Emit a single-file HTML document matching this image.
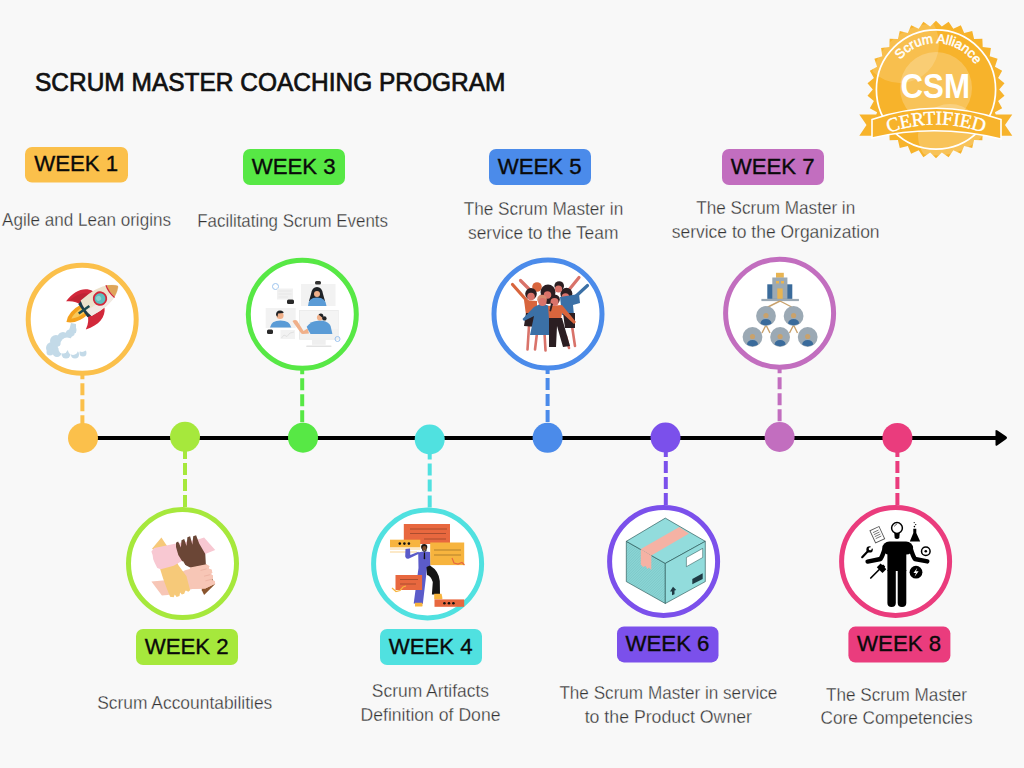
<!DOCTYPE html>
<html><head><meta charset="utf-8"><style>
html,body{margin:0;padding:0;background:#f8f8f8;width:1024px;height:768px;overflow:hidden}
svg{display:block}
text{font-family:"Liberation Sans",sans-serif}
.tt{font-size:25px;fill:#111;stroke:#111;stroke-width:0.7px}
.wk{font-size:22.4px;fill:#0a0a0a;stroke:#0a0a0a;stroke-width:0.35px}
.ds{font-size:17.5px;fill:#333;stroke:#f8f8f8;stroke-width:0.3px}
</style></head><body>
<svg width="1024" height="768" viewBox="0 0 1024 768">
<line x1="97" y1="438" x2="1000" y2="438" stroke="#000" stroke-width="4"/>
<path d="M995.5 431.5 Q995 429 997.5 430.5 L1006 436.3 Q1008 437.8 1006 439.3 L997.5 445.2 Q995 446.8 995.5 444 Z" fill="#000"/>
<line x1="82.4" y1="319.3" x2="82.4" y2="438.0" stroke="#FBC04B" stroke-width="4" stroke-dasharray="12 4"/>
<circle cx="83" cy="438" r="15" fill="#FBC04B"/>
<circle cx="82.2" cy="319.3" r="54.0" fill="#fff" stroke="#FBC04B" stroke-width="5"/>
<circle cx="52" cy="348" r="6" fill="#C3DAE8"/><circle cx="56" cy="341" r="6" fill="#C3DAE8"/><circle cx="63" cy="337.5" r="5.5" fill="#C3DAE8"/><circle cx="70" cy="334" r="4.5" fill="#C3DAE8"/><circle cx="73" cy="330" r="3.5" fill="#C3DAE8"/><circle cx="57" cy="352.5" r="4.5" fill="#C3DAE8"/><circle cx="66" cy="354" r="4.5" fill="#C3DAE8"/><circle cx="75" cy="354.5" r="4" fill="#C3DAE8"/><circle cx="83" cy="353" r="3.5" fill="#C3DAE8"/><circle cx="50" cy="352" r="3.5" fill="#C3DAE8"/><path d="M68 335 L71 323 L76 324 L76 333 Z" fill="#C3DAE8"/><circle cx="67" cy="344" r="6.5" fill="#fff"/><circle cx="76" cy="341" r="6" fill="#fff"/><circle cx="82" cy="347" r="5" fill="#fff"/><circle cx="73" cy="350" r="5" fill="#fff"/><circle cx="63" cy="349" r="4.5" fill="#fff"/><g transform="translate(96.75 300.85) rotate(-35)"><path d="M-14 -6 Q-30 -8 -37 0 Q-30 8 -14 6 Z" fill="#F4A21E"/><path d="M-16 -3 Q-26 -3 -31 0 Q-26 3 -16 3 Z" fill="#F8C85A"/><path d="M2.5 -10 C-2 -18.5 -12 -21.5 -25.4 -17.2 Q-17.5 -13 -15 -5 Z" fill="#D2283A"/><path d="M2.5 10 C-2 18.5 -12 21.5 -25.4 17.2 Q-17.5 13 -15 5 Z" fill="#D2283A"/><path d="M-2 -10 C-6 -15 -12 -17 -22 -16 Q-16 -12 -14 -6 Z" fill="#A81E2C" opacity="0.45"/><path d="M-17 -8 L-7 -10 L-7 10 L-17 8 Z" fill="#1E3A48"/><path d="M-13 -9.5 Q8 -12 19 -6 Q26 -2 26 0 Q26 2 19 6 Q8 12 -13 9.5 Q-16 0 -13 -9.5 Z" fill="#EDE2CC"/><path d="M-13 2 Q8 4 26 0 Q26 2 19 6 Q8 12 -13 9.5 Z" fill="#F2EAE4"/><path d="M17 -7 Q24 -3 26 0 Q24 3 17 7 Q15 0 17 -7 Z" fill="#DFA55A"/><path d="M16.5 -7.5 Q14.5 0 16.5 7.5" stroke="#D2283A" stroke-width="1.3" fill="none"/><circle cx="4" cy="0" r="7.2" fill="#D2283A"/><circle cx="4" cy="0" r="5.4" fill="#5EBFBF"/><circle cx="3" cy="-1" r="2.5" fill="#8ED4D0"/><path d="M-22 -1.2 L-9 -1.2 L-9 1.2 L-22 1.2 Z" fill="#1E4A50"/></g>
<rect x="25" y="147" width="103" height="35.5" rx="7" fill="#FBC04B"/>
<text x="76.2" y="170.6" text-anchor="middle" class="wk" textLength="84" lengthAdjust="spacingAndGlyphs">WEEK 1</text>
<text x="2.0" y="225.7" class="ds" textLength="169.0" lengthAdjust="spacingAndGlyphs">Agile and Lean origins</text>
<line x1="185.0" y1="507.1" x2="185.0" y2="436.8" stroke="#A6E83C" stroke-width="4" stroke-dasharray="12 4"/>
<circle cx="185" cy="436.8" r="15" fill="#A6E83C"/>
<circle cx="182.5" cy="563.6" r="54.0" fill="#fff" stroke="#A6E83C" stroke-width="5"/>
<polygon points="200.6,566.9 206.5,564.5 214.7,584.4 204.1,595.0 201.8,590.3" fill="#8A552E"/><polygon points="151.4,581.5 165.5,580.3 184.2,570.4 206.5,564.5 209.4,566.3 208.6,568.6 211.7,569.8 212.3,572.7 210.6,574.1 212.9,575.6 212.9,578.6 211.1,580.0 214.7,580.9 215.2,583.8 205.3,588.5 192.4,589.1 167.8,595.0 161.9,595.6" fill="#F7C6B6"/><polygon points="152.0,548.7 161.4,537.6 165.7,544.0 173.7,555.1 178.3,565.1 186.5,576.2 190.1,590.3 188.3,591.7 185.6,590.3 184.2,593.8 181.9,594.6 180.1,592.6 179.5,596.1 176.6,597.0 174.8,594.4 173.7,597.3 170.1,596.7 166.6,587.9 163.1,578.6 160.2,569.2 161.9,555.1" fill="#F6C979"/><polygon points="154.3,548.1 173.7,544.0 198.8,539.3 204.1,537.6 215.2,549.9 206.5,553.4 181.9,561.0 173.7,565.7 160.8,569.2 157.3,568.0 154.9,563.3 153.2,559.2 152.6,555.1 151.4,551.6" fill="#F8C8D2"/><polygon points="176.0,542.8 178.1,541.4 180.9,547.5 181.5,540.3 184.2,539.1 186.5,546.0 187.4,537.3 190.1,536.2 192.4,544.8 193.2,536.2 196.1,535.2 199.2,543.4 205.3,554.0 205.9,565.1 191.2,568.0 184.2,564.5 178.3,555.1 176.0,546.9" fill="#6B4636"/><polygon points="190.1,567.4 206.5,564.3 209.4,566.3 208.6,568.6 211.7,569.8 212.3,572.7 210.6,574.1 212.9,575.6 212.9,578.6 211.1,580.0 214.7,580.9 215.2,583.8 205.3,588.5 192.4,589.1 189.1,578.6" fill="#F7C6B6"/><polygon points="178.6,563.9 183.0,561.0 186.5,566.9 183.6,571.5" fill="#fff"/><path d="M200.6 570.4 l6 -1.5 M204.1 576.2 l6 -1.5 M205.3 580.9 l6 -1.5" stroke="#E6A898" stroke-width="0.6"/>
<rect x="136" y="629" width="102" height="36" rx="7" fill="#A6E83C"/>
<text x="186.7" y="653.6" text-anchor="middle" class="wk" textLength="84" lengthAdjust="spacingAndGlyphs">WEEK 2</text>
<text x="97.2" y="709.3" class="ds" textLength="175.1" lengthAdjust="spacingAndGlyphs">Scrum Accountabilities</text>
<line x1="302.2" y1="314.3" x2="302.2" y2="437.7" stroke="#57E845" stroke-width="4" stroke-dasharray="12 4"/>
<circle cx="303" cy="437.7" r="15" fill="#57E845"/>
<circle cx="302.3" cy="314.3" r="54.0" fill="#fff" stroke="#57E845" stroke-width="5"/>
<rect x="301" y="284" width="34.5" height="22" fill="#F2F2F2"/><path d="M311 294 Q312 287 317 287 Q322 287 323 294 L325 301 L309 301 Z" fill="#1F2226"/><circle cx="317" cy="294" r="3" fill="#F0B08A"/><path d="M308 306 Q308 297.5 317 297.5 Q326 297.5 326.5 306 Z" fill="#5A9BD6"/><rect x="315" y="281" width="6" height="3.5" rx="1.5" fill="#333"/><circle cx="275.5" cy="286.5" r="3" fill="none" stroke="#9CC3EE" stroke-width="1"/><rect x="277" y="288.5" width="16" height="11" fill="#F1F1F1"/><path d="M278.5 291 H291.5 M278.5 294 H291.5 M278.5 297 H288" stroke="#E2E2E2" stroke-width="0.7"/><rect x="287" y="299.5" width="7" height="4.5" rx="1.5" fill="#2A2A2A"/><rect x="265.7" y="308" width="30" height="20" fill="#F2F2F2"/><circle cx="280" cy="315.5" r="3.6" fill="#F0B08A"/><path d="M276 315 Q276 310.5 280 310.5 Q284 311 283.5 313 L278 313.5 L277.5 317 Z" fill="#1F2226"/><path d="M270 327.6 Q271 320.5 280.5 320.5 Q290 320.5 291.3 327.6 Z" fill="#5A9BD6"/><rect x="267" y="329.5" width="6" height="4.5" rx="1.5" fill="#2A2A2A"/><rect x="280.5" y="330" width="14.5" height="9" fill="#F2F2F2"/><path d="M281.5 338 L284 335 L287 336.5 L290 333 L294 332" stroke="#DADADA" stroke-width="0.7" fill="none"/><rect x="299.1" y="310" width="39.5" height="29.6" fill="#E6E6E6"/><rect x="299.8" y="310.7" width="38.1" height="28.2" fill="#F1F1F1"/><rect x="299.8" y="310.7" width="38.1" height="18.4" fill="#F4F4F4"/><rect x="312" y="340" width="13.7" height="4.8" fill="#EFEFEF"/><rect x="306.1" y="345.4" width="25.5" height="1.6" rx="0.8" fill="#E2E2E2"/><circle cx="320" cy="317.6" r="3.1" fill="#F0B08A"/><path d="M318.5 314.5 Q321 312.5 323 314.5 Q324 316 323 318 L321.5 317 Z" fill="#1F2226"/><circle cx="324.4" cy="318.4" r="2.2" fill="#1F2226"/><path d="M292.5 321 Q294.5 319.5 297 320.5 L303.5 331 L307.6 328.4 L309 333.5 L303 334 Q301.5 334 300.5 332.5 L294 323.5 Z" fill="#F0B08A"/><path d="M306.7 326.7 Q311 321 318.1 320.8 L322.8 320.8 Q329 322 330.6 326 L332.4 334 L310.5 334 Q308 330 306.7 326.7 Z" fill="#5A9BD6"/><circle cx="337.5" cy="339" r="2.5" fill="none" stroke="#9CC3EE" stroke-width="1"/>
<rect x="243" y="149" width="102" height="36" rx="7" fill="#57E845"/>
<text x="293.7" y="173.6" text-anchor="middle" class="wk" textLength="84" lengthAdjust="spacingAndGlyphs">WEEK 3</text>
<text x="197.2" y="227.1" class="ds" textLength="190.8" lengthAdjust="spacingAndGlyphs">Facilitating Scrum Events</text>
<line x1="429.7" y1="507.4" x2="429.7" y2="439.5" stroke="#50E1E0" stroke-width="4" stroke-dasharray="12 4"/>
<circle cx="429.7" cy="439.5" r="15" fill="#50E1E0"/>
<circle cx="427.6" cy="563.9" r="54.0" fill="#fff" stroke="#50E1E0" stroke-width="5"/>
<rect x="403.8" y="524" width="46.2" height="20" fill="#E8683F"/><path d="M410 529 H447 M410 533.5 H446 M424 539 H446" stroke="#6A3020" stroke-width="0.6" opacity="0.8"/><rect x="390" y="539.7" width="30.3" height="7.7" fill="#F7B43E"/><circle cx="399.8" cy="543.6" r="1.3" fill="#111"/><circle cx="404.4" cy="543.6" r="1.3" fill="#111"/><circle cx="408.9" cy="543.6" r="1.3" fill="#111"/><path d="M390 549 H420 M390 552 H417" stroke="#F7B43E" stroke-width="0.8" opacity="0.7"/><rect x="430.2" y="542.5" width="34" height="22.6" fill="#F7B43E"/><path d="M434 550 H461 M434 555 H461" stroke="#6A4A20" stroke-width="0.6" opacity="0.8"/><path d="M452 558 L454 563 L458 564 L462 562.5 L464.5 565" stroke="#E8683F" stroke-width="1.2" fill="none"/><path d="M419 553.7 L409 558.5 Q406 559.5 405.2 556.5 L405.5 549 L410 548.5 L410.3 555 L418.5 551.8 Z" fill="#5B5BC9"/><path d="M418.2 552.5 Q424 551 430 552 L430.3 568.5 L427 568.5 L422.8 604 L413.7 603.5 L418.5 568 Z" fill="#5B5BC9"/><path d="M426.5 567 L430 565.5 Q439 571 439.8 581 L440 594.6 L431.9 594.6 L432.8 582 Q431 576 427 575 Z" fill="#151515"/><circle cx="424.2" cy="547" r="3.1" fill="#1A1410"/><ellipse cx="424.4" cy="548.2" rx="2" ry="2.3" fill="#7A4A2A"/><path d="M422.2 549 Q424.4 552.5 426.6 549 L426.6 550.5 Q424.4 553 422.2 550.5 Z" fill="#1A1410"/><path d="M423.9 552.5 L425 552.5 L425.2 558.5 L424.4 559.5 L423.7 558.5 Z" fill="#111"/><path d="M415 602.8 H422.3 Q423 606.5 422 606.5 H415 Z M434.2 593.7 H441.5 Q443 599.2 442 599.2 H434.2 Z" fill="#F7B43E"/><rect x="395.5" y="575" width="26.6" height="15" fill="#E8683F"/><path d="M400 579.5 H418 M400 584 H416" stroke="#6A3020" stroke-width="0.6" opacity="0.8"/><path d="M392 588 L396 591.5 L400 590.5 L403 587 L406 586" stroke="#F7B43E" stroke-width="1.2" fill="none"/><rect x="434.5" y="599.4" width="29.7" height="7.4" fill="#E8683F"/><circle cx="444.4" cy="603.2" r="1.3" fill="#111"/><circle cx="449" cy="603.2" r="1.3" fill="#111"/><circle cx="453.4" cy="603.2" r="1.3" fill="#111"/>
<rect x="380" y="629" width="102" height="36" rx="7" fill="#50E1E0"/>
<text x="430.7" y="653.6" text-anchor="middle" class="wk" textLength="84" lengthAdjust="spacingAndGlyphs">WEEK 4</text>
<text x="371.8" y="696.9" class="ds" textLength="117.2" lengthAdjust="spacingAndGlyphs">Scrum Artifacts</text>
<text x="360.5" y="720.5" class="ds" textLength="140.0" lengthAdjust="spacingAndGlyphs">Definition of Done</text>
<line x1="547.6" y1="314.0" x2="547.6" y2="437.8" stroke="#4B8BEA" stroke-width="4" stroke-dasharray="12 4"/>
<circle cx="547.6" cy="437.8" r="15" fill="#4B8BEA"/>
<circle cx="548" cy="314" r="54.0" fill="#fff" stroke="#4B8BEA" stroke-width="5"/>
<line x1="512.5" y1="284.5" x2="528" y2="302" stroke="#D8653D" stroke-width="3.2" stroke-linecap="round"/><line x1="520.5" y1="280.5" x2="533" y2="293" stroke="#D9736A" stroke-width="3.2" stroke-linecap="round"/><line x1="587.5" y1="285.5" x2="574" y2="298" stroke="#3B70A6" stroke-width="3.2" stroke-linecap="round"/><line x1="579" y1="277.5" x2="568" y2="291" stroke="#D9736A" stroke-width="3.2" stroke-linecap="round"/><line x1="529" y1="326" x2="527.5" y2="349.5" stroke="#D9736A" stroke-width="2.6" stroke-linecap="round"/><line x1="537" y1="333" x2="535" y2="349.5" stroke="#D9736A" stroke-width="2.6" stroke-linecap="round"/><line x1="544.5" y1="333" x2="545.5" y2="350.5" stroke="#D9736A" stroke-width="2.6" stroke-linecap="round"/><line x1="572" y1="326" x2="575" y2="346" stroke="#D9736A" stroke-width="2.6" stroke-linecap="round"/><line x1="566" y1="336" x2="569" y2="348" stroke="#D9736A" stroke-width="2.6" stroke-linecap="round"/><circle cx="537" cy="287" r="4.8" fill="#D8653D"/><circle cx="559.2" cy="286" r="4.8" fill="#2B1E22"/><circle cx="548" cy="292" r="7.5" fill="#2B1E22"/><circle cx="566.4" cy="293.8" r="6" fill="#2B1E22"/><circle cx="531" cy="293.8" r="5.8" fill="#2B1E22"/><ellipse cx="548" cy="298" rx="9" ry="6" fill="#2B1E22"/><circle cx="558.5" cy="289" r="3.6" fill="#D9736A"/><circle cx="547.5" cy="295" r="3.8" fill="#D9736A"/><circle cx="565.5" cy="297" r="3.8" fill="#D9736A"/><circle cx="531" cy="296.5" r="3.8" fill="#D9736A"/><path d="M524 300 L537 301 L537 315 L526 315 Z" fill="#D8653D"/><path d="M526 313 L537 313 L536 327 L524 326 Z" fill="#2B1E22"/><path d="M560 297 L579 294 L580 303 L573 305 L574 315 L562 315 Z" fill="#3B70A6"/><path d="M563 313 L575 313 L575 328 L565 328 Z" fill="#2B1E22"/><path d="M540 304 Q546 304 549 306 L550 335 L530 335 L534 316 L524 321 L522.5 319 L534 307 Z" fill="#3B70A6"/><circle cx="542" cy="299.5" r="4.8" fill="#D88C70"/><circle cx="542.5" cy="302" r="4" fill="#D9736A"/><path d="M548 306 L562 305 L576 322 L574 324 L562 313 L561 319 L549 319 Z" fill="#D8653D"/><path d="M549 318 L562 318 L570 346 L563 347 L557 326 L556 347 L549 347 Z" fill="#2B1E22"/><circle cx="555" cy="299.5" r="4.8" fill="#2B1E22"/><circle cx="554.5" cy="302" r="4" fill="#D9736A"/><path d="M551 303 L549.5 311 L551 311.5 L553 304 Z" fill="#2B1E22"/>
<rect x="489" y="149" width="102" height="36" rx="7" fill="#4B8BEA"/>
<text x="539.7" y="173.6" text-anchor="middle" class="wk" textLength="84" lengthAdjust="spacingAndGlyphs">WEEK 5</text>
<text x="463.7" y="214.8" class="ds" textLength="159.5" lengthAdjust="spacingAndGlyphs">The Scrum Master in</text>
<text x="468.0" y="238.6" class="ds" textLength="150.4" lengthAdjust="spacingAndGlyphs">service to the Team</text>
<line x1="665.8" y1="504.9" x2="665.8" y2="437.6" stroke="#7B50EB" stroke-width="4" stroke-dasharray="12 4"/>
<circle cx="665.5" cy="437.6" r="15" fill="#7B50EB"/>
<circle cx="663.6" cy="561.4" r="54.0" fill="#fff" stroke="#7B50EB" stroke-width="5"/>
<defs><clipPath id="lface"><polygon points="626.3,541.3 665.3,563.4 665.3,603.5 626.3,581.6"/></clipPath></defs><polygon points="626.3,541.3 665.3,563.4 665.3,603.5 626.3,581.6" fill="#8AD4D4"/><g clip-path="url(#lface)"><path d="M560.0 610.0 l75 -75 M562.6 610.0 l75 -75 M565.2 610.0 l75 -75 M567.8 610.0 l75 -75 M570.4 610.0 l75 -75 M573.0 610.0 l75 -75 M575.6 610.0 l75 -75 M578.2 610.0 l75 -75 M580.8 610.0 l75 -75 M583.4 610.0 l75 -75 M586.0 610.0 l75 -75 M588.6 610.0 l75 -75 M591.2 610.0 l75 -75 M593.8 610.0 l75 -75 M596.4 610.0 l75 -75 M599.0 610.0 l75 -75 M601.6 610.0 l75 -75 M604.2 610.0 l75 -75 M606.8 610.0 l75 -75 M609.4 610.0 l75 -75 M612.0 610.0 l75 -75 M614.6 610.0 l75 -75 M617.2 610.0 l75 -75 M619.8 610.0 l75 -75 M622.4 610.0 l75 -75 M625.0 610.0 l75 -75 M627.6 610.0 l75 -75 M630.2 610.0 l75 -75 M632.8 610.0 l75 -75 M635.4 610.0 l75 -75 M638.0 610.0 l75 -75 M640.6 610.0 l75 -75 M643.2 610.0 l75 -75 M645.8 610.0 l75 -75 M648.4 610.0 l75 -75 M651.0 610.0 l75 -75 M653.6 610.0 l75 -75 M656.2 610.0 l75 -75 M658.8 610.0 l75 -75 M661.4 610.0 l75 -75 M664.0 610.0 l75 -75 M666.6 610.0 l75 -75" stroke="#4E9A9A" stroke-width="0.35" opacity="0.55"/></g><polygon points="626.3,541.3 665.3,563.4 665.3,603.5 626.3,581.6" fill="none" stroke="#1F4A4A" stroke-width="0.6"/><polygon points="665.3,518.1 705.3,541.3 665.3,563.4 626.3,541.3" fill="#92DCDC" stroke="#1F4A4A" stroke-width="0.6"/><polygon points="665.3,563.4 705.3,541.3 705.3,581.6 665.3,603.5" fill="#92DCDC" stroke="#1F4A4A" stroke-width="0.6"/><polygon points="640.8,549.1 651.3,555.6 689,533.4 679.3,526.9" fill="#F5B2A4"/><polygon points="640.8,549.1 651.3,555.6 651.3,570 649,567.5 647.5,569 645.5,566 643,567 640.8,564.5" fill="#F5B2A4"/><polygon points="686.4,557.5 702.7,548.4 702.7,557.5 686.4,566.7" fill="#fff" stroke="#1F4A4A" stroke-width="0.5"/><polygon points="692.3,579 702.7,573.2 702.7,579 692.3,584.2" fill="#1F3A44"/><path d="M673 586.8 L670 591.5 L672 591.5 L672 595.3 L674.5 594.3 L674.5 590.5 L676.2 590 Z" fill="#1F3A44"/>
<rect x="617" y="626.4" width="101.5" height="36" rx="7" fill="#7B50EB"/>
<text x="667.5" y="651.0" text-anchor="middle" class="wk" textLength="84" lengthAdjust="spacingAndGlyphs">WEEK 6</text>
<text x="559.4" y="699.0" class="ds" textLength="217.9" lengthAdjust="spacingAndGlyphs">The Scrum Master in service</text>
<text x="584.7" y="722.5" class="ds" textLength="167.3" lengthAdjust="spacingAndGlyphs">to the Product Owner</text>
<line x1="779.6" y1="313.2" x2="779.6" y2="437.0" stroke="#C26EBF" stroke-width="4" stroke-dasharray="12 4"/>
<circle cx="779.6" cy="437" r="15" fill="#C26EBF"/>
<circle cx="779.6" cy="313.2" r="54.0" fill="#fff" stroke="#C26EBF" stroke-width="5"/>
<rect x="776" y="272.8" width="7.8" height="5" fill="#E8B452"/><rect x="767.3" y="284.3" width="25" height="14.6" fill="#3A6B9B"/><rect x="772.3" y="277.5" width="15.1" height="21.4" fill="#9BA9B4"/><rect x="777.3" y="288.4" width="5.4" height="10.5" fill="#E8B452"/><rect x="776" y="281" width="3" height="2.5" fill="#E8B452"/><rect x="781" y="281" width="3" height="2.5" fill="#E8B452"/><rect x="761.4" y="298.9" width="37.5" height="2.2" fill="#9BA9B4"/><path d="M780 301 L766 308 M780 301 L793.6 308 M766 325 L762 333 M766 325 L770 333 M793.6 325 L789.5 333 M793.6 325 L797.5 333" stroke="#C9A26C" stroke-width="1.4" fill="none"/><circle cx="766" cy="316" r="9.9" fill="#9BA9B4"/><circle cx="766" cy="315.5" r="2.6" fill="#C9A26C"/><path d="M760.4 323.6 Q761 319 766 319 Q771 319 771.6 323.6 Q766 327 760.4 323.6 Z" fill="#3A6B9B"/><circle cx="793.6" cy="316" r="9.9" fill="#9BA9B4"/><circle cx="793.6" cy="315.5" r="2.6" fill="#C9A26C"/><path d="M788.0 323.6 Q788.6 319 793.6 319 Q798.6 319 799.2 323.6 Q793.6 327 788.0 323.6 Z" fill="#3A6B9B"/><circle cx="752.5" cy="337" r="9.9" fill="#9BA9B4"/><circle cx="752.5" cy="336.5" r="2.6" fill="#C9A26C"/><path d="M746.9 344.6 Q747.5 340 752.5 340 Q757.5 340 758.1 344.6 Q752.5 348 746.9 344.6 Z" fill="#3A6B9B"/><circle cx="780.1" cy="337" r="9.9" fill="#9BA9B4"/><circle cx="780.1" cy="336.5" r="2.6" fill="#C9A26C"/><path d="M774.5 344.6 Q775.1 340 780.1 340 Q785.1 340 785.7 344.6 Q780.1 348 774.5 344.6 Z" fill="#3A6B9B"/><circle cx="807.7" cy="337" r="9.9" fill="#9BA9B4"/><circle cx="807.7" cy="336.5" r="2.6" fill="#C9A26C"/><path d="M802.1 344.6 Q802.7 340 807.7 340 Q812.7 340 813.3000000000001 344.6 Q807.7 348 802.1 344.6 Z" fill="#3A6B9B"/>
<rect x="722" y="149" width="102" height="36" rx="7" fill="#C26EBF"/>
<text x="772.7" y="173.6" text-anchor="middle" class="wk" textLength="84" lengthAdjust="spacingAndGlyphs">WEEK 7</text>
<text x="696.3" y="214.0" class="ds" textLength="158.9" lengthAdjust="spacingAndGlyphs">The Scrum Master in</text>
<text x="671.7" y="237.7" class="ds" textLength="207.9" lengthAdjust="spacingAndGlyphs">service to the Organization</text>
<line x1="897.4" y1="504.9" x2="897.4" y2="437.9" stroke="#EA3C7D" stroke-width="4" stroke-dasharray="12 4"/>
<circle cx="897.4" cy="437.9" r="15" fill="#EA3C7D"/>
<circle cx="895.6" cy="561.4" r="54.0" fill="#fff" stroke="#EA3C7D" stroke-width="5"/>
<rect x="882.3" y="541.6" width="30.8" height="13" rx="7" fill="#000"/><rect x="887.4" y="546" width="18.9" height="25" fill="#000"/><path d="M884.6 549 Q882.5 556 880.5 559 L867.6 561.6" stroke="#000" stroke-width="4.4" stroke-linecap="round" stroke-linejoin="round" fill="none"/><path d="M910.8 549 Q912.9 556 914.9 559 L927.3 561.4" stroke="#000" stroke-width="4.4" stroke-linecap="round" stroke-linejoin="round" fill="none"/><path d="M887.4 570 H895.8 V603 Q895.8 607.1 891.6 607.1 Q887.4 607.1 887.4 603 Z" fill="#000"/><path d="M897.7 570 H906.3 V603 Q906.3 607.1 902 607.1 Q897.7 607.1 897.7 603 Z" fill="#000"/><circle cx="897" cy="528" r="5.4" fill="none" stroke="#000" stroke-width="1.5"/><path d="M894.3 533 L899.7 533 L899.3 538 Q897 540 894.7 538 Z" fill="#000"/><path d="M894.5 526.5 Q895 524.5 897 524" stroke="#000" stroke-width="0.6" fill="none"/><path d="M913.3 528.8 L916.3 528.8 L916.3 533 L920.2 541.6 L909.8 541.6 L913.3 533 Z" fill="#000"/><circle cx="914.4" cy="526.6" r="0.8" fill="#000"/><circle cx="915.7" cy="524.6" r="0.7" fill="#000"/><circle cx="914.2" cy="522.6" r="0.6" fill="#000"/><g transform="rotate(-25 877.3 534.7)"><rect x="872.3" y="528" width="10" height="13.4" fill="#fff" stroke="#555" stroke-width="0.9"/><path d="M874.2 531 H880.4 M874.2 533.2 H880.4 M874.2 535.4 H880.4 M874.2 537.6 H880.4" stroke="#666" stroke-width="0.8"/></g><path d="M862.2 557.2 L867.6 551.6" stroke="#000" stroke-width="2.2" stroke-linecap="round"/><circle cx="869.6" cy="549.4" r="3.2" fill="#000"/><circle cx="870.2" cy="548.8" r="1.5" fill="#fff"/><path d="M870 549 L871.2 545.2 L874.2 548.2 Z" fill="#fff"/><path d="M870.8 578 L879.8 569" stroke="#000" stroke-width="1.7" stroke-linecap="round"/><path d="M876.8 567.3 L880.6 563.5 L882.2 565.1 L883.2 564.6 L885.2 566.6 L884.7 567.6 L886.3 569.2 L882.5 573 L880.9 571.4 Z" fill="#000"/><circle cx="925.8" cy="551.2" r="4.3" fill="none" stroke="#000" stroke-width="1.5"/><circle cx="925.8" cy="551.2" r="1.3" fill="#000"/><circle cx="916" cy="572.2" r="6.4" fill="#000"/><path d="M917.3 567.8 L913.5 573 L916 573 L914.5 576.8 L918.6 571.3 L916 571.3 Z" fill="#fff"/>
<rect x="848.4" y="626.6" width="102" height="36" rx="7" fill="#EA3C7D"/>
<text x="899.1" y="651.2" text-anchor="middle" class="wk" textLength="84" lengthAdjust="spacingAndGlyphs">WEEK 8</text>
<text x="826.0" y="700.8" class="ds" textLength="141.0" lengthAdjust="spacingAndGlyphs">The Scrum Master</text>
<text x="820.5" y="724.3" class="ds" textLength="152.0" lengthAdjust="spacingAndGlyphs">Core Competencies</text>
<text x="35" y="90.8" class="tt" textLength="470.5" lengthAdjust="spacingAndGlyphs">SCRUM MASTER COACHING PROGRAM</text>
<defs><clipPath id="bclip"><circle cx="936" cy="89.5" r="66"/></clipPath></defs><polygon points="936.00,20.70 941.83,26.57 948.64,21.87 953.30,28.71 960.85,25.35 964.17,32.93 972.22,31.01 974.09,39.07 982.35,38.66 982.71,46.92 990.90,48.04 989.73,56.23 997.59,58.83 994.93,66.67 1002.17,70.67 998.12,77.89 1004.51,83.15 999.20,89.50 1004.51,95.85 998.12,101.11 1002.17,108.33 994.93,112.33 997.59,120.17 989.73,122.77 990.90,130.96 982.71,132.08 982.35,140.34 974.09,139.93 972.22,147.99 964.17,146.07 960.85,153.65 953.30,150.29 948.64,157.13 941.83,152.43 936.00,158.30 930.17,152.43 923.36,157.13 918.70,150.29 911.15,153.65 907.83,146.07 899.78,147.99 897.91,139.93 889.65,140.34 889.29,132.08 881.10,130.96 882.27,122.77 874.41,120.17 877.07,112.33 869.83,108.33 873.88,101.11 867.49,95.85 872.80,89.50 867.49,83.15 873.88,77.89 869.83,70.67 877.07,66.67 874.41,58.83 882.27,56.23 881.10,48.04 889.29,46.92 889.65,38.66 897.91,39.07 899.78,31.01 907.83,32.93 911.15,25.35 918.70,28.71 923.36,21.87 930.17,26.57" fill="#F7B32B"/><g clip-path="url(#bclip)"><circle cx="900" cy="44" r="39" fill="#FFFFFF" opacity="0.17"/><circle cx="936" cy="88" r="36" fill="#FFFFFF" opacity="0.22"/><circle cx="950" cy="136" r="32" fill="#FFFFFF" opacity="0.22"/></g><circle cx="936" cy="89.5" r="59.6" fill="none" stroke="#fff" stroke-width="1.7"/><path d="M859.3 114.5 L878 114.5 L878 135.8 L859.3 135.8 L866.5 125 Z" fill="#F7B32B"/><path d="M1012.3 114.5 L994 114.5 L994 135.8 L1012.3 135.8 L1005 125 Z" fill="#F7B32B"/><path d="M872 119.5 Q936 97 1001 119.5 L1001 139 Q936 123 872 138 Z" fill="#F7B32B" stroke="#fff" stroke-width="1.6"/><path id="arcS" d="M889.6 89.5 A46.4 46.4 0 0 1 982.4 89.5" fill="none"/><text style="font-family:'Liberation Sans';font-size:13.2px" fill="#fff" stroke="#fff" stroke-width="0.5"><textPath href="#arcS" startOffset="75.7" text-anchor="middle">Scrum Alliance</textPath></text><text x="935.2" y="98.3" text-anchor="middle" style="font-family:'Liberation Sans';font-weight:700;font-size:35.5px" fill="#fff" textLength="69.5" lengthAdjust="spacingAndGlyphs">CSM</text><path id="arcC" d="M880 136 Q936 113 992 136" fill="none"/><text style="font-family:'Liberation Serif';font-size:19.5px" fill="#fff" stroke="#fff" stroke-width="0.4" letter-spacing="-0.2"><textPath href="#arcC" startOffset="50%" text-anchor="middle">CERTIFIED</textPath></text>
</svg>
</body></html>
